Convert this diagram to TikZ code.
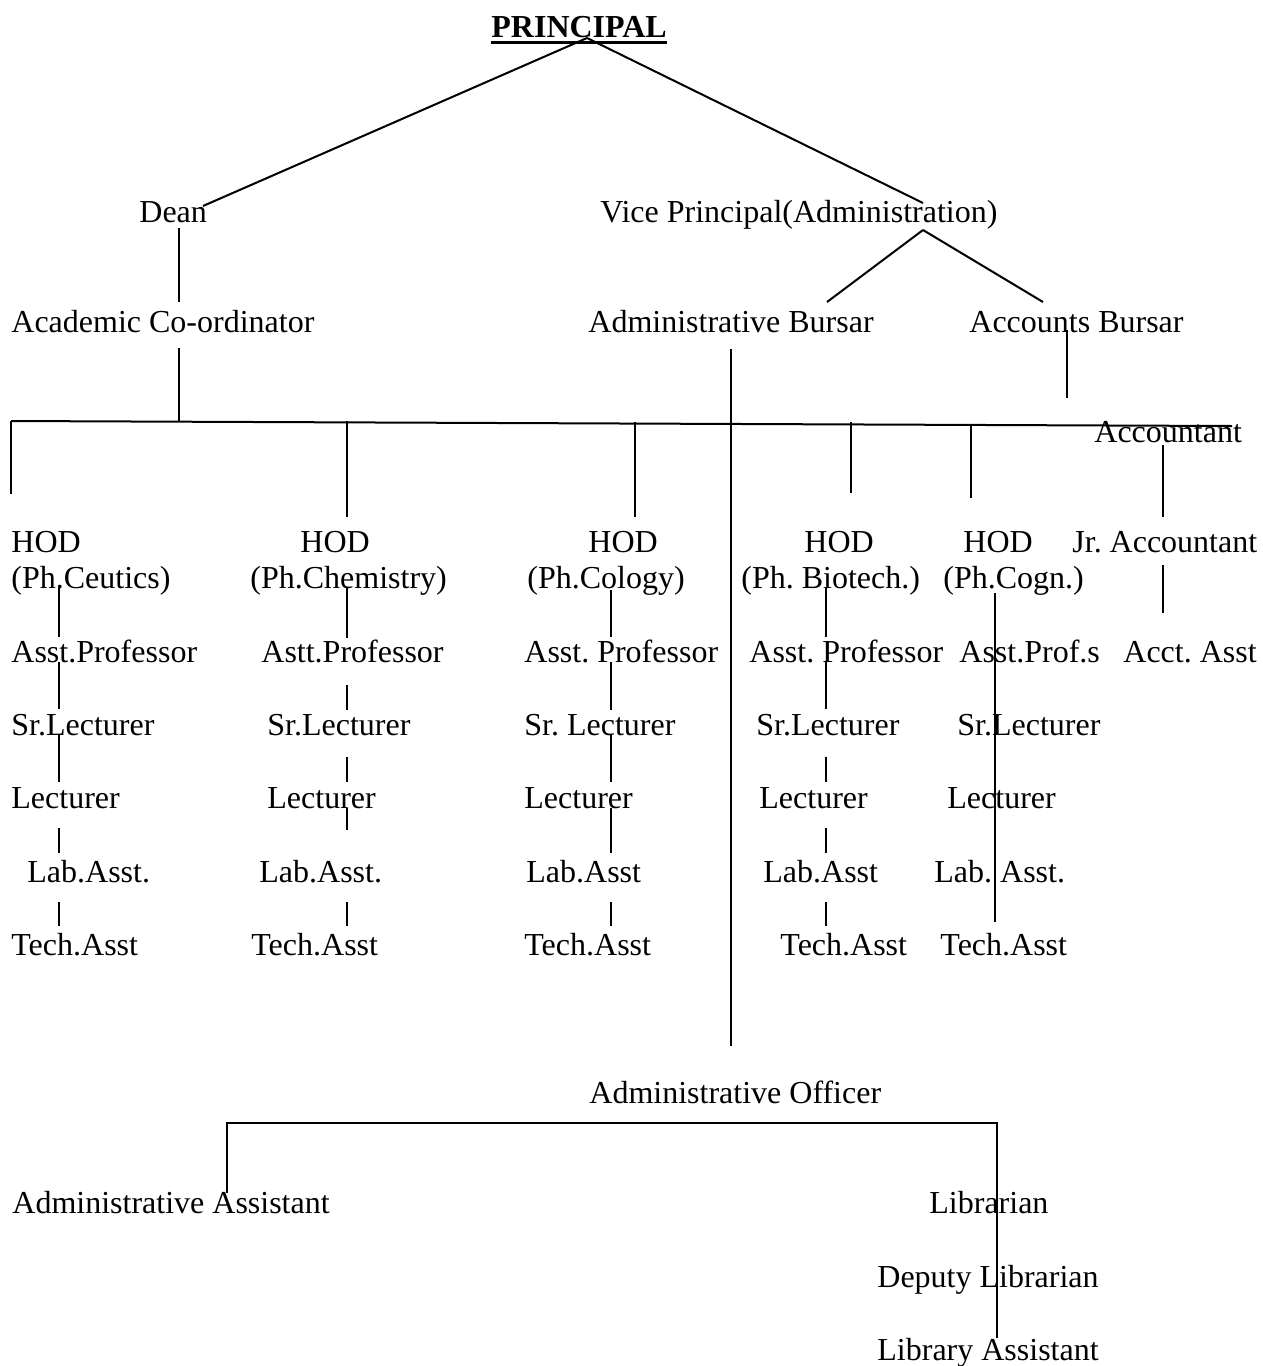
\documentclass[tikz,border=0pt]{standalone}
\usepackage{fontspec}
\setmainfont{Liberation Serif}
\frenchspacing
\begin{document}
\begin{tikzpicture}[x=0.5pt,y=-0.5pt,
  lbl/.style={anchor=base west,inner sep=0pt,font=\fontsize{16}{19}\selectfont\frenchspacing},
  conn/.style={line width=1pt}]
\fill[white] (0,0) rectangle (1263,1366);
\useasboundingbox (0,0) rectangle (1263,1366);

% ---- top levels
\node[lbl] (princ) at (491,37) {\bfseries PRINCIPAL};
\draw[line width=1.5pt] ([yshift=-2.5pt]princ.base west) -- ([yshift=-2.5pt]princ.base east);
\node[lbl] (dean) at (139,222) {Dean};
\node[lbl] (vp) at (600,222) {Vice Principal(Administration)};
\node[lbl] (acad) at (11,332) {Academic Co-ordinator};
\node[lbl] (adb) at (588,332) {Administrative Bursar};
\node[lbl] (acb) at (969,332) {Accounts Bursar};
\node[lbl] (acct) at (1094,442) {Accountant};
\node[lbl] (jr) at (1072,552) {Jr. Accountant};
\node[lbl] (aa) at (1123,662) {Acct. Asst};

% ---- departments
\foreach \nm/\x/\y/\t in {
  hodA/11/552/HOD, dA/11/588/(Ph.Ceutics), pA/11/662/Asst.Professor, sA/11/735/Sr.Lecturer, lA/11/808/Lecturer, laA/27/882/Lab.Asst., tA/11/955/Tech.Asst,
  hodB/300/552/HOD, dB/250/588/(Ph.Chemistry), pB/261/662/Astt.Professor, sB/267/735/Sr.Lecturer, lB/267/808/Lecturer, laB/259/882/Lab.Asst., tB/251/955/Tech.Asst,
  hodC/588/552/HOD, dC/527/588/(Ph.Cology), pC/524/662/Asst. Professor, sC/524/735/Sr. Lecturer, lC/524/808/Lecturer, laC/526/882/Lab.Asst, tC/524/955/Tech.Asst,
  hodD/804/552/HOD, dD/741/588/(Ph. Biotech.), pD/749/662/Asst. Professor, sD/756/735/Sr.Lecturer, lD/759/808/Lecturer, laD/763/882/Lab.Asst, tD/780/955/Tech.Asst,
  hodE/963/552/HOD, dE/943/588/(Ph.Cogn.), pE/959/662/Asst.Prof.s, sE/957/735/Sr.Lecturer, lE/947/808/Lecturer, laE/934/882/Lab. Asst., tE/940/955/Tech.Asst}
  {\node[lbl] (\nm) at (\x,\y) {\t};}

% ---- bottom
\node[lbl] (ao) at (589,1103) {Administrative Officer};
\node[lbl] (aas) at (12,1213) {Administrative Assistant};
\node[lbl] (lib) at (929,1213) {Librarian};
\node[lbl] (dl) at (877,1287) {Deputy Librarian};
\node[lbl] (las) at (877,1360) {Library Assistant};

% ---- connector points
\coordinate (pTop) at (587,38);
\coordinate (deanR) at (203,206);
\coordinate (vpTop) at (923,203);
\coordinate (vpBot) at (923,230);
\coordinate (adbTop) at (827,302);
\coordinate (acbTop) at (1043,302);
\coordinate (busL) at (11,421);
\coordinate (busR) at (1232,426);
\coordinate (bot1) at (227,1123);
\coordinate (bot2) at (997,1123);
\coordinate (aasTop) at (227,1193);
\coordinate (lasTop) at (997,1338);

\draw[conn] (pTop) -- (deanR);
\draw[conn] (pTop) -- (vpTop);
\draw[conn] (vpBot) -- (adbTop);
\draw[conn] (vpBot) -- (acbTop);
\draw[conn] (busL) -- (busR);
\draw[conn] (aasTop) -- (bot1) -- (bot2) -- (lasTop);

% ---- vertical connectors
\foreach \n/\x/\a/\b in {
  deanAc/179/228/302, acBus/179/348/422,
  bA/11/421/494, bB/347/421/517, bC/635/422/517, bD/851/422/493, bE/971/426/498,
  acbAcct/1067/330/398, acctJr/1163/445/517, jrAa/1163/565/613, adbAo/731/349/1046,
  cA1/59/588/637, cA2/59/662/709, cA3/59/735/782, cA4/59/828/853, cA5/59/902/926,
  cB1/347/588/638, cB2/347/685/710, cB3/347/757/782, cB4/347/808/830, cB5/347/902/926,
  cC1/611/590/637, cC2/611/662/710, cC3/611/735/782, cC4/611/808/853, cC5/611/902/926,
  cD1/826/588/637, cD2/826/662/709, cD3/826/757/782, cD4/826/828/853, cD5/826/902/926,
  cE1/995/593/922}
  {\coordinate (\n-t) at (\x,\a); \coordinate (\n-b) at (\x,\b);
   \draw[conn] (\n-t) -- (\n-b);}
\end{tikzpicture}
\end{document}
